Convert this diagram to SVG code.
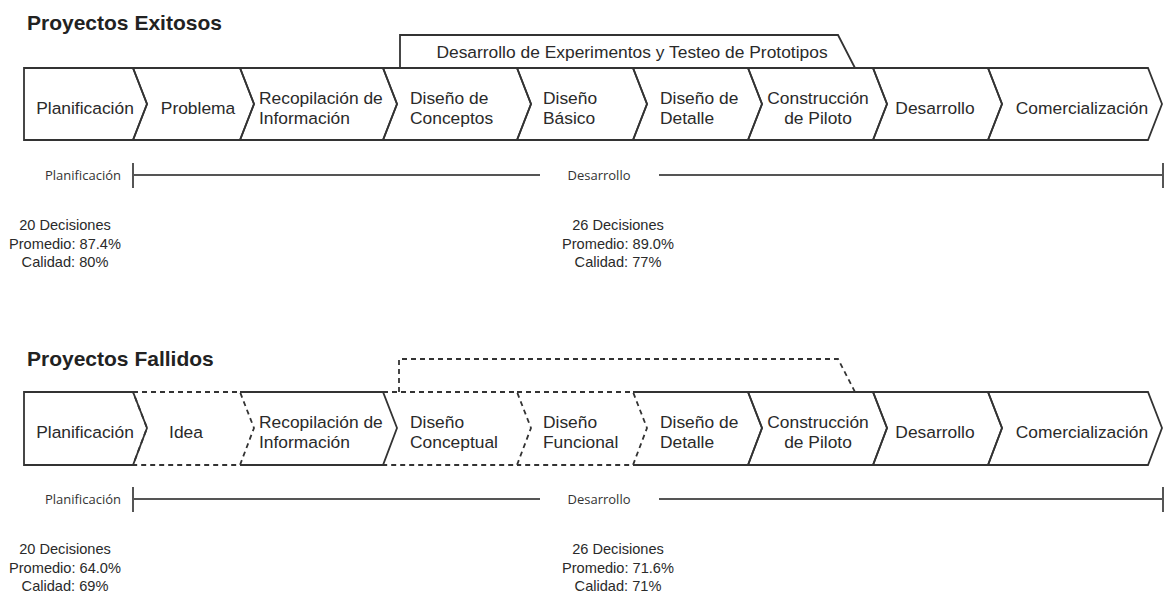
<svg xmlns="http://www.w3.org/2000/svg" width="1165" height="603" viewBox="0 0 1165 603">
  <style>
    .bg { fill: #ffffff; }
    .title { font-family: "Liberation Sans", Arial, sans-serif; font-size: 21px; font-weight: bold; fill: #222; }
    .lbl { font-family: "Liberation Sans", Arial, sans-serif; font-size: 17.4px; fill: #2a2a2a; }
    .stat { font-family: "Liberation Sans", Arial, sans-serif; font-size: 14.6px; fill: #2a2a2a; text-anchor: middle; }
    .tl { font-family: "Open Sans", "Noto Sans", sans-serif; font-size: 13px; fill: #333; }
    .mid { text-anchor: middle; }
    .end { text-anchor: end; }
    .solid { fill: none; stroke: #333; stroke-width: 1.8; stroke-linejoin: miter; }
    .dash { fill: none; stroke: #333; stroke-width: 1.8; stroke-dasharray: 5 4; }
    .axis { fill: none; stroke: #555; stroke-width: 2; }
  </style>
  <rect class="bg" x="0" y="0" width="1165" height="603"/>

  <!-- ===== Successful projects ===== -->
  <text class="title" x="27" y="30">Proyectos Exitosos</text>

  <g id="bracket-top">
    <path class="solid" d="M400,68 L400,35 L838,35 L855,68"/>
    <text class="lbl mid" x="632" y="58">Desarrollo de Experimentos y Testeo de Prototipos</text>
  </g>

  <g id="a1"><path class="solid" d="M24,68 L133,68 L147,104 L133,140 L24,140 Z"/><text class="lbl mid" x="85" y="114">Planificación</text></g>
  <g id="a2"><path class="solid" d="M133,68 L240,68 L254,104 L240,140 L133,140 L147,104 Z"/><text class="lbl mid" x="198" y="114">Problema</text></g>
  <g id="a3"><path class="solid" d="M240,68 L383,68 L397,104 L383,140 L240,140 L254,104 Z"/><text class="lbl" x="259" y="104">Recopilación de</text><text class="lbl" x="259" y="124">Información</text></g>
  <g id="a4"><path class="solid" d="M383,68 L517,68 L531,104 L517,140 L383,140 L397,104 Z"/><text class="lbl" x="410" y="104">Diseño de</text><text class="lbl" x="410" y="124">Conceptos</text></g>
  <g id="a5"><path class="solid" d="M517,68 L633,68 L647,104 L633,140 L517,140 L531,104 Z"/><text class="lbl" x="543" y="104">Diseño</text><text class="lbl" x="543" y="124">Básico</text></g>
  <g id="a6"><path class="solid" d="M633,68 L748,68 L762,104 L748,140 L633,140 L647,104 Z"/><text class="lbl" x="660" y="104">Diseño de</text><text class="lbl" x="660" y="124">Detalle</text></g>
  <g id="a7"><path class="solid" d="M748,68 L873,68 L887,104 L873,140 L748,140 L762,104 Z"/><text class="lbl mid" x="818" y="104">Construcción</text><text class="lbl mid" x="818" y="124">de Piloto</text></g>
  <g id="a8"><path class="solid" d="M873,68 L988,68 L1002,104 L988,140 L873,140 L887,104 Z"/><text class="lbl mid" x="935" y="114">Desarrollo</text></g>
  <g id="a9"><path class="solid" d="M988,68 L1148,68 L1162,104 L1148,140 L988,140 L1002,104 Z"/><text class="lbl mid" x="1082" y="114">Comercialización</text></g>

  <g id="timeline-top">
    <path class="axis" d="M133,163 L133,188 M133,175 L540,175 M659,175 L1163,175 M1163,163 L1163,188"/>
    <text class="tl end" x="121" y="180">Planificación</text>
    <text class="tl mid" x="599" y="180">Desarrollo</text>
  </g>

  <g id="stats-top-plan">
    <text class="stat" x="65" y="230">20 Decisiones</text>
    <text class="stat" x="65" y="248.5">Promedio: 87.4%</text>
    <text class="stat" x="65" y="267">Calidad: 80%</text>
  </g>
  <g id="stats-top-dev">
    <text class="stat" x="618" y="230">26 Decisiones</text>
    <text class="stat" x="618" y="248.5">Promedio: 89.0%</text>
    <text class="stat" x="618" y="267">Calidad: 77%</text>
  </g>

  <!-- ===== Failed projects ===== -->
  <text class="title" x="27" y="366">Proyectos Fallidos</text>

  <g id="bracket-bottom">
    <path class="dash" d="M399,392 L399,359 L838,359 L855,392"/>
  </g>

  <g id="b1"><path class="solid" d="M24,392 L133,392 L147,428 L133,465 L24,465 Z"/><text class="lbl mid" x="85" y="438">Planificación</text></g>
  <g id="b2"><path class="dash" d="M133,392 L240,392 L254,428 L240,465 L133,465 L147,428 Z"/><text class="lbl mid" x="186" y="438">Idea</text></g>
  <g id="b3"><path class="solid" d="M240,392 L383,392 L397,428 L383,465 L240,465"/><text class="lbl" x="259" y="428">Recopilación de</text><text class="lbl" x="259" y="448">Información</text></g>
  <g id="b4"><path class="dash" d="M383,392 L517,392 L531,428 L517,465 L383,465"/><text class="lbl" x="410" y="428">Diseño</text><text class="lbl" x="410" y="448">Conceptual</text></g>
  <g id="b5"><path class="dash" d="M517,392 L633,392 L647,428 L633,465 L517,465"/><text class="lbl" x="543" y="428">Diseño</text><text class="lbl" x="543" y="448">Funcional</text></g>
  <g id="b6"><path class="solid" d="M633,392 L748,392 L762,428 L748,465 L633,465"/><text class="lbl" x="660" y="428">Diseño de</text><text class="lbl" x="660" y="448">Detalle</text></g>
  <g id="b7"><path class="solid" d="M748,392 L873,392 L887,428 L873,465 L748,465 L762,428 Z"/><text class="lbl mid" x="818" y="428">Construcción</text><text class="lbl mid" x="818" y="448">de Piloto</text></g>
  <g id="b8"><path class="solid" d="M873,392 L988,392 L1002,428 L988,465 L873,465 L887,428 Z"/><text class="lbl mid" x="935" y="438">Desarrollo</text></g>
  <g id="b9"><path class="solid" d="M988,392 L1148,392 L1162,428 L1148,465 L988,465 L1002,428 Z"/><text class="lbl mid" x="1082" y="438">Comercialización</text></g>

  <g id="timeline-bottom">
    <path class="axis" d="M133,487 L133,512 M133,499 L540,499 M659,499 L1163,499 M1163,487 L1163,512"/>
    <text class="tl end" x="121" y="504">Planificación</text>
    <text class="tl mid" x="599" y="504">Desarrollo</text>
  </g>

  <g id="stats-bottom-plan">
    <text class="stat" x="65" y="554">20 Decisiones</text>
    <text class="stat" x="65" y="572.5">Promedio: 64.0%</text>
    <text class="stat" x="65" y="591">Calidad: 69%</text>
  </g>
  <g id="stats-bottom-dev">
    <text class="stat" x="618" y="554">26 Decisiones</text>
    <text class="stat" x="618" y="572.5">Promedio: 71.6%</text>
    <text class="stat" x="618" y="591">Calidad: 71%</text>
  </g>
</svg>
